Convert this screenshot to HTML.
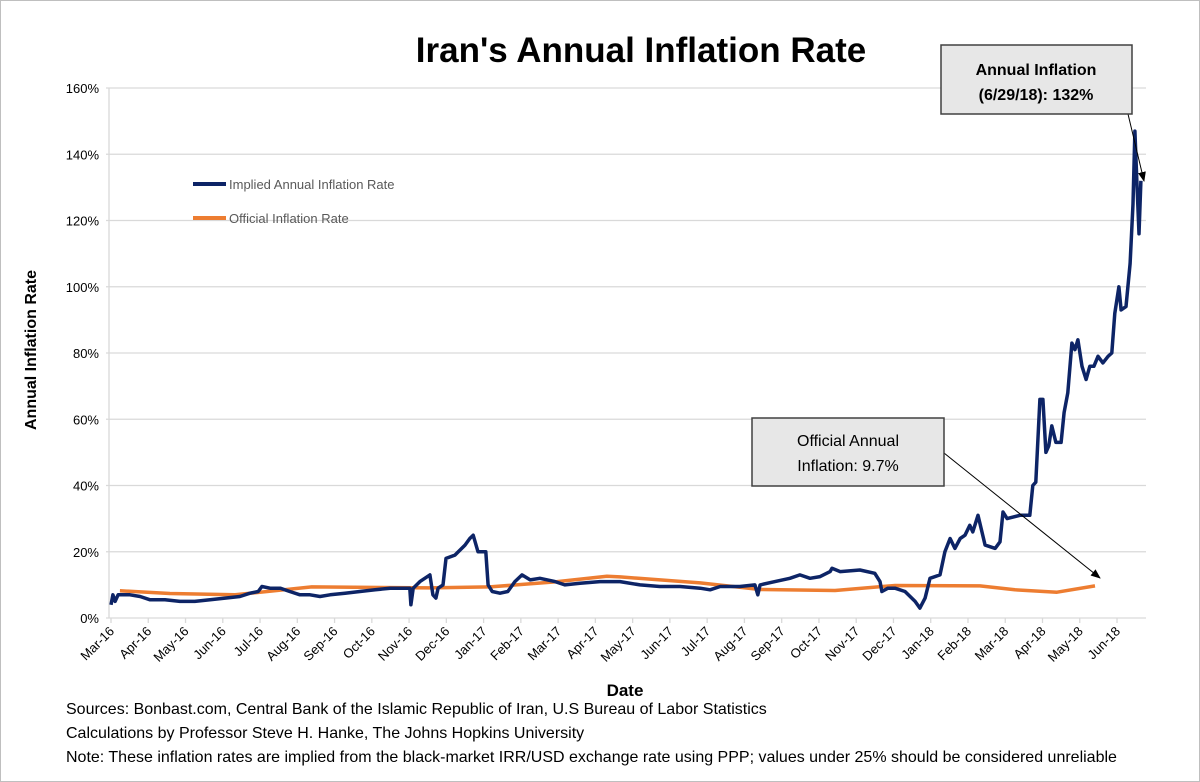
<!DOCTYPE html>
<html><head><meta charset="utf-8"><style>
body{margin:0;background:#fff;}
svg{display:block;font-family:"Liberation Sans",Arial,sans-serif;}
</style></head><body>
<svg id="chart" width="1200" height="782" viewBox="0 0 1200 782">
<rect x="0.5" y="0.5" width="1199" height="781" fill="#fff" stroke="#bfbfbf"/>
<text x="641" y="62" text-anchor="middle" font-size="35" font-weight="bold" fill="#000">Iran's Annual Inflation Rate</text>
<g id="grid"></g><g id="xaxis"></g><g id="series"></g>
<text transform="translate(36,350) rotate(-90)" text-anchor="middle" font-size="16" font-weight="bold">Annual Inflation Rate</text>
<text x="625" y="696" text-anchor="middle" font-size="17" font-weight="bold">Date</text>
<g>
<line x1="193" y1="184" x2="226" y2="184" stroke="#0d2466" stroke-width="4"/>
<text x="229" y="189" font-size="13" fill="#595959">Implied Annual Inflation Rate</text>
<line x1="193" y1="218" x2="226" y2="218" stroke="#ed7d31" stroke-width="4"/>
<text x="229" y="223" font-size="13" fill="#595959">Official Inflation Rate</text>
</g>
<defs><marker id="ah" markerWidth="10" markerHeight="8" refX="9" refY="4" orient="auto" markerUnits="userSpaceOnUse"><path d="M0,0 L10,4 L0,8 z" fill="#000"/></marker></defs>
<line x1="1128" y1="114" x2="1144" y2="181" stroke="#000" stroke-width="1" marker-end="url(#ah)"/>
<line x1="944" y1="453" x2="1100" y2="578" stroke="#000" stroke-width="1" marker-end="url(#ah)"/>
<g>
<rect x="941" y="45" width="191" height="69" fill="#e7e7e7" stroke="#404040" stroke-width="1.5"/>
<text x="1036" y="75" text-anchor="middle" font-size="16" font-weight="bold">Annual Inflation</text>
<text x="1036" y="100" text-anchor="middle" font-size="16" font-weight="bold">(6/29/18): 132%</text>
</g>
<g>
<rect x="752" y="418" width="192" height="68" fill="#e7e7e7" stroke="#404040" stroke-width="1.5"/>
<text x="848" y="446" text-anchor="middle" font-size="16">Official Annual</text>
<text x="848" y="471" text-anchor="middle" font-size="16">Inflation: 9.7%</text>
</g>
<g font-size="16" fill="#000">
<text x="66" y="714">Sources: Bonbast.com, Central Bank of the Islamic Republic of Iran, U.S Bureau of Labor Statistics</text>
<text x="66" y="738">Calculations by Professor Steve H. Hanke, The Johns Hopkins University</text>
<text x="66" y="762">Note: These inflation rates are implied from the black-market IRR/USD exchange rate using PPP; values under 25% should be considered unreliable</text>
</g>
</svg>
<script>
const monthLabels=["Mar-16","Apr-16","May-16","Jun-16","Jul-16","Aug-16","Sep-16","Oct-16","Nov-16","Dec-16","Jan-17","Feb-17","Mar-17","Apr-17","May-17","Jun-17","Jul-17","Aug-17","Sep-17","Oct-17","Nov-17","Dec-17","Jan-18","Feb-18","Mar-18","Apr-18","May-18","Jun-18"];
const yTicks=[0,20,40,60,80,100,120,140,160];
const impliedMonths=[0,.05,.11,.19,.3,.51,.78,1.05,1.45,1.85,2.25,2.66,3.06,3.46,3.73,3.95,4.05,4.27,4.54,4.8,5.07,5.34,5.61,5.88,6.28,6.68,7.09,7.49,8.02,8.05,8.11,8.29,8.56,8.64,8.72,8.78,8.91,8.99,9.23,9.5,9.63,9.72,9.85,10.06,10.12,10.23,10.44,10.65,10.84,11.03,11.25,11.51,11.92,12.18,12.59,13.12,13.66,14.2,14.73,15.27,15.81,16.08,16.35,16.88,17.28,17.36,17.42,17.82,18.22,18.49,18.76,19.03,19.3,19.35,19.57,20.1,20.5,20.64,20.69,20.85,21.04,21.31,21.58,21.71,21.85,21.98,22.25,22.38,22.52,22.65,22.79,22.92,23.05,23.13,23.27,23.46,23.73,23.86,23.94,24.05,24.4,24.66,24.74,24.82,24.93,25.01,25.09,25.17,25.25,25.36,25.5,25.58,25.68,25.79,25.87,25.95,26.06,26.17,26.27,26.38,26.49,26.62,26.76,26.86,26.94,27.05,27.11,27.24,27.35,27.43,27.48,27.54,27.59,27.64];
const impliedValues=[4,7,5,7,7,7,6.5,5.5,5.5,5,5,5.5,6,6.5,7.5,8,9.5,9,9,8,7,7,6.5,7,7.5,8,8.5,9,9,4,9,11,13,7,6,9,10,18,19,22,24,25,20,20,10,8,7.5,8,11,13,11.5,12,11,10,10.5,11,11,10,9.5,9.5,9,8.5,9.5,9.5,10,7,10,11,12,13,12,12.5,14,15,14,14.5,13.5,11,8,9,9,8,5,3,6,12,13,20,24,21,24,25,28,26,31,22,21,23,32,30,31,31,40,41,66,66,50,52,58,53,53,62,68,83,81,84,76,72,76,76,79,77,79,80,92,100,93,94,107,125,147,130,116,132];
const officialMonths=[.24,1.58,3.33,5.39,8.56,10.17,11.92,13.31,13.66,15.81,17.42,19.43,21.04,23.32,24.26,25.39,26.41];
const officialValues=[8.2,7.4,7.0,9.4,9.1,9.4,10.9,12.6,12.4,10.6,8.6,8.3,9.8,9.7,8.5,7.8,9.7];

const NS="http://www.w3.org/2000/svg";
const X0=111,DX=37.26,Y0=618,PY=3.3125,PL=106,PR=1146;
const xs=m=>X0+m*DX, ys=v=>Y0-v*PY;
function mk(tag,attrs,parent){const e=document.createElementNS(NS,tag);for(const k in attrs)e.setAttribute(k,attrs[k]);parent.appendChild(e);return e;}
const grid=document.getElementById('grid'),xa=document.getElementById('xaxis'),se=document.getElementById('series');
yTicks.forEach(t=>{
  const l=mk('line',{x1:PL,x2:PR,y1:ys(t),y2:ys(t),stroke:'#d9d9d9','stroke-width':1.3},grid);
  
  
  const tx=mk('text',{x:99,y:ys(t)+5,'text-anchor':'end','font-size':13,fill:'#000'},grid);
  tx.textContent=t+'%';
  
  
});
const ax=mk('line',{x1:X0-2,x2:X0-2,y1:ys(160),y2:Y0,stroke:'#d9d9d9','stroke-width':1.3},grid);


monthLabels.forEach((lab,i)=>{
  const x=xs(i);
  const tk=mk('line',{x1:x,x2:x,y1:Y0,y2:Y0+5,stroke:'#d9d9d9','stroke-width':1.3},xa);
  
  
  const t=mk('text',{x:x+4,y:Y0+14,'text-anchor':'end','font-size':13,transform:`rotate(-45 ${x+4} ${Y0+14})`},xa);
  t.textContent=lab;
  
  
});
function path(ms,vs){return ms.map((m,i)=>(i?'L':'M')+xs(m).toFixed(1)+','+ys(vs[i]).toFixed(1)).join('');}
const po=mk('path',{d:path(officialMonths,officialValues),fill:'none',stroke:'#ed7d31','stroke-width':3.5,'stroke-linejoin':'round'},se);


const pi=mk('path',{d:path(impliedMonths,impliedValues),fill:'none',stroke:'#0d2466','stroke-width':3.5,'stroke-linejoin':'round'},se);


</script>
</body></html>
